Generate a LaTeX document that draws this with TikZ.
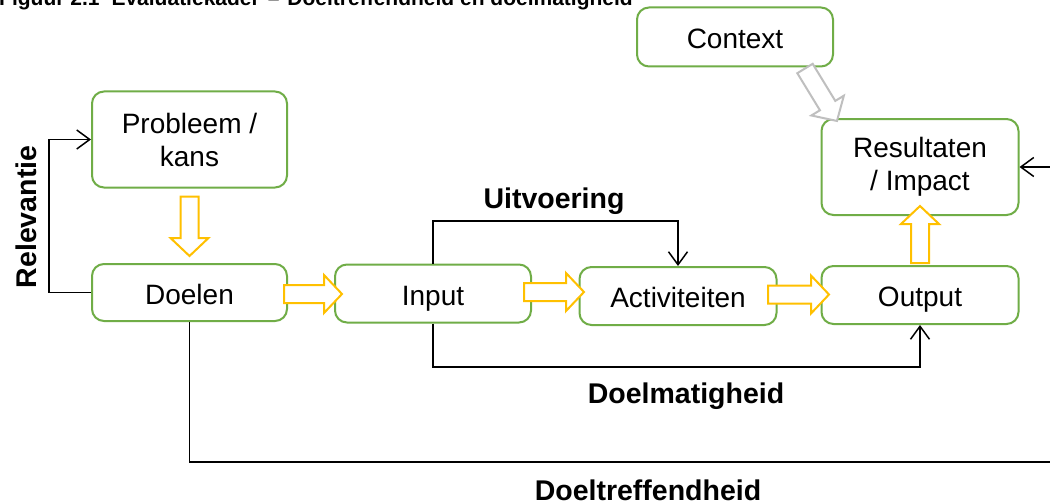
\documentclass[tikz,border=0pt]{standalone}
\usepackage{fontspec}
\setmainfont{Liberation Sans}
\usetikzlibrary{arrows.meta,calc}
\definecolor{boxgreen}{HTML}{70AD47}
\definecolor{arryellow}{HTML}{FFC000}
\definecolor{arrgrey}{HTML}{BFBFBF}
\newcommand\boxfont{\fontsize{28}{33}\selectfont}
\newcommand\labfont{\bfseries\fontsize{28.5}{33}\selectfont}
\newcommand\fatarrow[3]{%
  \draw[#1] let \p1=#2, \p2=#3,
    \n1={atan2(\y2-\y1,\x2-\x1)}, \n2={veclen(\x2-\x1,\y2-\y1)} in
    [shift={(\x1,\y1)}, rotate=\n1]
    (0pt,-9pt) -- ({(\n2-18)*1pt},-9pt) -- ({(\n2-18)*1pt},-19pt) -- ({\n2*1pt},0pt)
    -- ({(\n2-18)*1pt},19pt) -- ({(\n2-18)*1pt},9pt) -- (0pt,9pt) -- cycle;}
\tikzset{
  box/.style={draw=boxgreen, line width=2pt, rounded corners=12pt, fill=white,
    inner sep=0pt, align=center, font=\boxfont, text=black},
  onebox/.style={box, text height=23pt, text depth=0pt},
  yarr/.style={draw=arryellow, line width=2pt, fill=white, line join=miter},
  garr/.style={draw=arrgrey, line width=2pt, fill=white, line join=miter},
  conn/.style={draw=black, line width=1.5pt, -{Straight Barb[length=13pt,width=19pt,line width=1.5pt]}},
  lab/.style={font=\labfont, inner sep=0pt, text=black}
}
\begin{document}
\begin{tikzpicture}[x=1pt,y=-1pt]
\useasboundingbox (0,0) rectangle (1050,503);
\clip (0,0) rectangle (1050,503);
\fill[white] (0,0) rectangle (1050,503);
% caption (cut off at the top)
\node[anchor=base west, font=\bfseries\fontsize{21}{24}\selectfont, inner sep=0pt] (cap) at (-1,6)
  {Figuur 2.1\hspace{12pt}Evaluatiekader\hspace{8pt}–\hspace{8pt}Doeltreffendheid en doelmatigheid};
% boxes
\node[onebox, minimum width=196pt, minimum height=59pt] (context) at (735,37) {Context};
\node[box, minimum width=195pt, minimum height=96pt] (prob) at (189.5,139.5) {Probleem /\\kans};
\node[onebox, minimum width=195pt, minimum height=57pt] (doelen) at (189.5,292.5) {Doelen};
\node[onebox, minimum width=196pt, minimum height=58pt] (input) at (433,293.5) {Input};
\node[onebox, minimum width=197pt, minimum height=58pt] (activ) at (678,296) {Activiteiten};
\node[onebox, minimum width=197pt, minimum height=58pt] (output) at (920,295) {Output};
\node[box, minimum width=197pt, minimum height=96pt] (result) at (920,167) {Resultaten\\/ Impact};
% black connectors
\draw[conn] (doelen.west) -- ++(-42,0) |- (prob.west);
\draw[conn] (input.north) -- ++(0,-42.5) -| (activ.north);
\draw[conn] (input.south) -- ++(0,43.5) -| (output.south);
\coordinate (farright) at (1062,462);
\draw[conn] (doelen.south) |- (farright) |- (result.east);
% fat arrows
\fatarrow{yarr}{($(prob.south)+(0,8)$)}{($(doelen.north)+(0,-7)$)}
\fatarrow{yarr}{($(doelen.east)+(-4,1.5)$)}{($(input.west)+(8,0.5)$)}
\fatarrow{yarr}{($(input.east)+(-8,-1.5)$)}{($(activ.west)+(5.5,-4)$)}
\fatarrow{yarr}{($(activ.east)+(-9.5,-1.5)$)}{($(output.west)+(8.5,-0.5)$)}
\fatarrow{yarr}{($(output.north)+(0,-2)$)}{($(result.south)+(0,-10)$)}
\fatarrow{garr}{($(context.south east)+(-29,1)$)}{($(result.north west)+(16.5,3)$)}
% labels
\node[lab, rotate=90] (relev) at (26,217) {Relevantie};
\node[lab] (uitv) at (554,201) {Uitvoering};
\node[lab] (doelm) at (686,396) {Doelmatigheid};
\node[lab] (doeltr) at (648,490) {Doeltreffendheid};
\end{tikzpicture}
\end{document}
